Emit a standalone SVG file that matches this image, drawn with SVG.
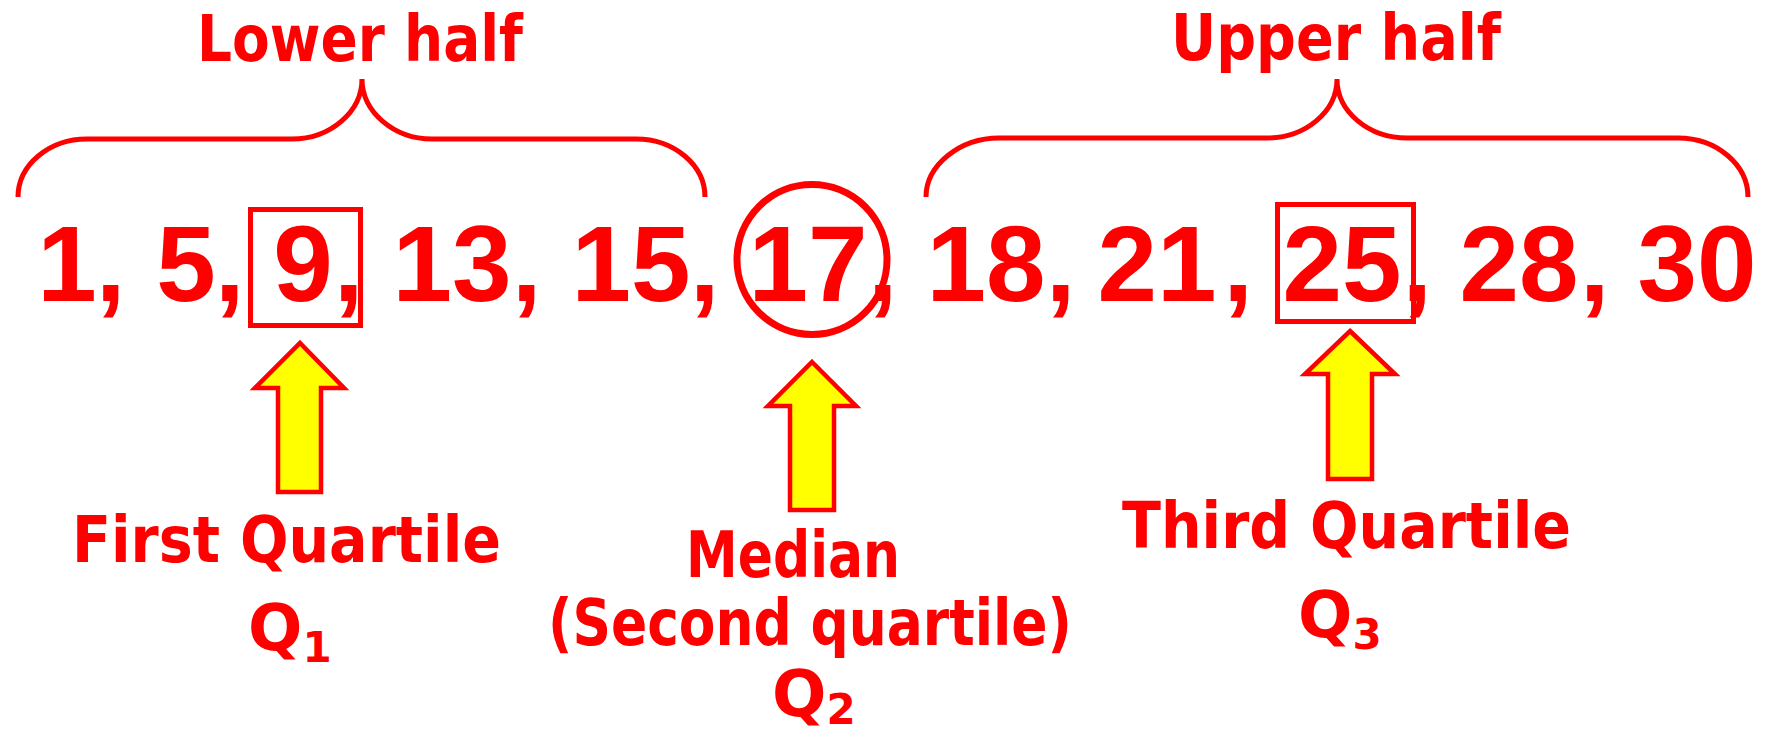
<svg xmlns="http://www.w3.org/2000/svg" width="1765" height="738" viewBox="0 0 1765 738">
<style>
.num{font-family:"Liberation Sans",Arial,sans-serif;font-weight:bold;font-size:107px;fill:#ff0000;text-anchor:middle}
.lbl{font-family:"DejaVu Sans",sans-serif;font-weight:bold;font-size:64px;fill:#ff0000}
.brace{fill:none;stroke:#ff0000;stroke-width:5}
.hl{fill:none;stroke:#ff0000;stroke-width:5}
.ring{fill:none;stroke:#ff0000;stroke-width:7}
.arrow{fill:#ffff00;stroke:#ff0000;stroke-width:4.5;stroke-linejoin:miter}
</style>
<rect width="1765" height="738" fill="#ffffff"/>

<g id="connectors">
  <path id="lower-brace" class="brace" d="M18,197 C18,165 49,139 87,139 L292,139 C330,139 362,112 362,79 C362,112 394,139 432,139 L636,139 C674,139 705,165 705,197"/>
  <path id="upper-brace" class="brace" d="M926,197 C926,165 960,138 999,138 L1267,138 C1305,138 1337,112 1337,79 C1337,112 1369,138 1407,138 L1678,138 C1717,138 1748,165 1748,197"/>
  <path id="q1-arrow" class="arrow" d="M300,343 L344,388 L321,388 L321,492 L278,492 L278,388 L255,388 Z"/>
  <path id="q2-arrow" class="arrow" d="M812,362 L856,406 L834,406 L834,510 L790,510 L790,406 L768,406 Z"/>
  <path id="q3-arrow" class="arrow" d="M1350,331 L1395,374 L1372,374 L1372,479 L1328,479 L1328,374 L1305,374 Z"/>
</g>

<g id="lower-half-label">
  <text class="lbl" x="197" y="61" textLength="326" lengthAdjust="spacingAndGlyphs">Lower half</text>
</g>
<g id="upper-half-label">
  <text class="lbl" x="1171" y="60" textLength="330" lengthAdjust="spacingAndGlyphs">Upper half</text>
</g>

<g id="numbers">
  <text class="num" x="67" y="301">1</text><text class="num" x="110.5" y="301">,</text>
  <text class="num" x="186" y="301">5</text><text class="num" x="229.5" y="301">,</text>
  <text class="num" x="303" y="301">9</text><text class="num" x="348.5" y="301">,</text>
  <text class="num" x="452" y="301">13</text><text class="num" x="526.5" y="301">,</text>
  <text class="num" x="631" y="301">15</text><text class="num" x="704.5" y="301">,</text>
  <text class="num" x="808" y="301">17</text><text class="num" x="882.5" y="301">,</text>
  <text class="num" x="986" y="301">18</text><text class="num" x="1060.5" y="301">,</text>
  <text class="num" x="1157" y="301">21</text><text class="num" x="1238" y="301">,</text>
  <text class="num" x="1342" y="301">25</text><text class="num" x="1417" y="301">,</text>
  <text class="num" x="1519" y="301">28</text><text class="num" x="1594.5" y="301">,</text>
  <text class="num" x="1697" y="301">30</text>
</g>

<g id="q1-box"><rect class="hl" x="250.5" y="209.5" width="110" height="116"/></g>
<g id="median-circle"><circle class="ring" cx="812" cy="259.5" r="75"/></g>
<g id="q3-box"><rect class="hl" x="1277.5" y="204.5" width="136" height="117"/></g>

<g id="q1-label">
  <text class="lbl" x="72" y="562" textLength="429" lengthAdjust="spacingAndGlyphs">First Quartile</text>
  <text class="lbl" x="248" y="650">Q<tspan font-size="42" dy="12">1</tspan></text>
</g>
<g id="q2-label">
  <text class="lbl" x="686" y="577" textLength="214" lengthAdjust="spacingAndGlyphs">Median</text>
  <text class="lbl" x="548" y="645" textLength="524" lengthAdjust="spacingAndGlyphs">(Second quartile)</text>
  <text class="lbl" x="772" y="716">Q<tspan font-size="42" dy="8">2</tspan></text>
</g>
<g id="q3-label">
  <text class="lbl" x="1122" y="548" textLength="449" lengthAdjust="spacingAndGlyphs">Third Quartile</text>
  <text class="lbl" x="1298" y="637">Q<tspan font-size="42" dy="12">3</tspan></text>
</g>
</svg>
